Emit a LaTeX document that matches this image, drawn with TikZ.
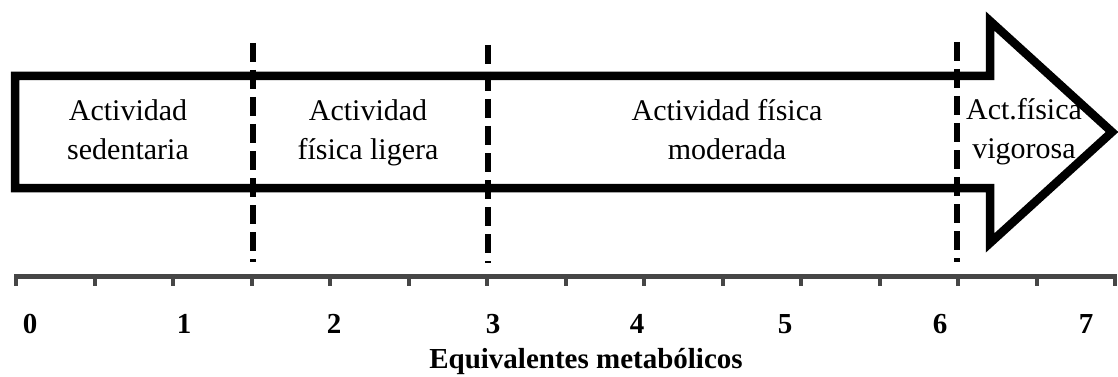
\documentclass[tikz,border=0pt]{standalone}
\usepackage{fontspec}
\setmainfont{Liberation Serif}
\usepackage{xcolor}
\usetikzlibrary{positioning}
\definecolor{axisgray}{HTML}{464646}
\tikzset{
    x=1pt, y=-1pt,
    zone/.style ={align=center, anchor=base, inner sep=0pt, font=\fontsize{30}{39}\selectfont},
    num/.style ={anchor=base, inner sep=0pt, font=\bfseries\fontsize{29}{29}\selectfont},
    outline/.style ={line width=8.5pt, miter limit=20},
    limit/.style ={line width=5.5pt, dash pattern=on 19pt off 8pt},
    axis/.style ={draw=axisgray, line width=5pt},
    tick/.style ={draw=axisgray, line width=4pt}
}

\begin{document}
\begin{tikzpicture}
        \useasboundingbox (0,0) rectangle (1118,377);

        % big arrow
        \draw[outline] (15,76) -- (990,76) -- (990,21) -- (1112,132)
            -- (990,243) -- (990,188) -- (15,188) -- cycle;

        % zone labels (base = last line)
        \node[zone] (sed) at (128,159) {Actividad\\sedentaria};
        \node[zone] (lig) at (368,159) {Actividad\\física ligera};
        \node[zone] (mod) at (727,159) {Actividad física\\moderada};
        \node[zone] (vig) at (1024,158) {Act.física\\vigorosa};

        % zone limits
        \coordinate (l1t) at (253,43);
        \coordinate (l1b) at (253,262);
        \coordinate (l2t) at (488,45);
        \coordinate (l2b) at (488,263);
        \coordinate (l3t) at (957,42);
        \coordinate (l3b) at (957,262);

        \draw[limit] (l1t) -- (l1b);
        \draw[limit] (l2t) -- (l2b);
        \draw[limit] (l3t) -- (l3b);

        % scale
        \coordinate (a0) at (14,276);
        \coordinate (a1) at (1117,276);
        \draw[axis] (a0) -- (a1);
        \foreach \k in {0,...,14}
            \draw[tick] (16+78.5*\k,276) -- ++(0,10);

        \node[num] (n0) at (30,333) {0};
        \node[num] (n1) at (184,333) {1};
        \node[num] (n2) at (334,333) {2};
        \node[num] (n3) at (493,333) {3};
        \node[num] (n4) at (637,333) {4};
        \node[num] (n5) at (785,333) {5};
        \node[num] (n6) at (940,333) {6};
        \node[num] (n7) at (1086,333) {7};

        \node[num] (met) at (586,368) {Equivalentes metabólicos};
      \end{tikzpicture}
\end{document}
